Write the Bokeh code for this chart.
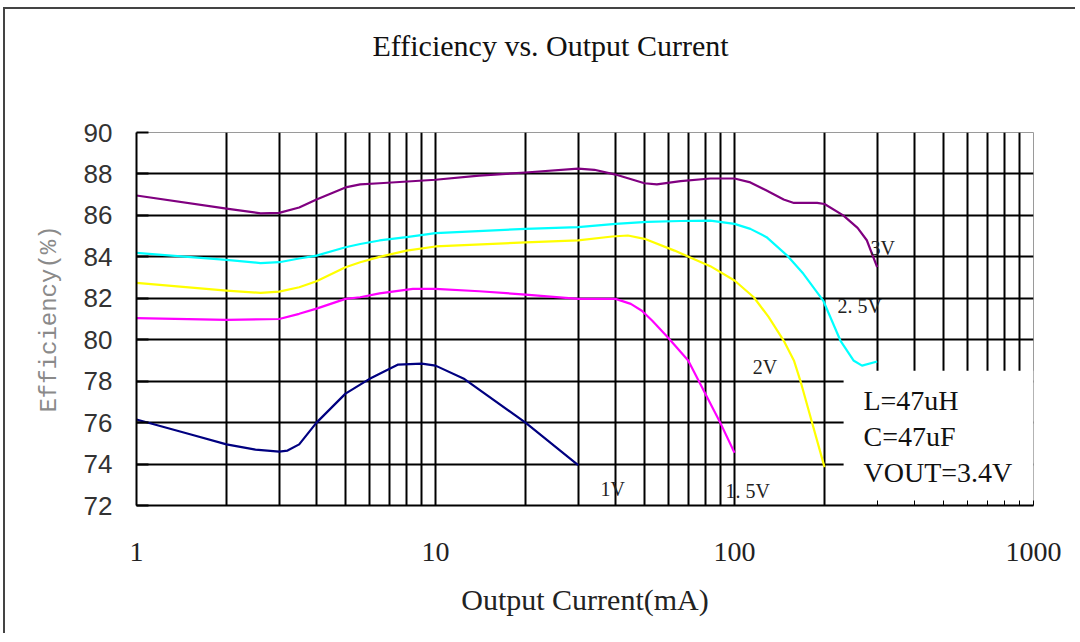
from bokeh.plotting import figure
from bokeh.models import Range1d, FixedTicker, BasicTickFormatter, Title
from bokeh.core.properties import value
from bokeh.embed import file_html
from bokeh.resources import INLINE

# ---------------- data ----------------
x_1v = [1, 1.5, 2, 2.5, 3, 3.2, 3.5, 4, 5, 6, 7.5, 9, 10, 12.5, 20, 30]
y_1v = [76.15, 75.45, 74.95, 74.7, 74.6, 74.65, 74.95, 76.0, 77.4, 78.1, 78.8, 78.85, 78.75, 78.1, 76.0, 73.95]

x_15v = [1, 2, 3, 3.5, 4, 5, 5.6, 6.5, 8.4, 10, 14, 20, 30, 40, 45, 49, 53, 60, 70, 90, 100]
y_15v = [81.04, 80.96, 81.0, 81.25, 81.5, 81.97, 82.05, 82.24, 82.45, 82.45, 82.34, 82.18, 81.97, 81.97, 81.73, 81.4, 80.93, 80.1, 79.0, 75.94, 74.55]

x_2v = [1, 2, 2.6, 3, 3.5, 4, 5, 5.6, 6.5, 8, 10, 20, 30, 39, 44, 50, 63, 77, 83, 100, 116, 130, 146, 158, 166, 200]
y_2v = [82.74, 82.37, 82.26, 82.32, 82.53, 82.82, 83.5, 83.74, 84.0, 84.3, 84.5, 84.7, 84.79, 84.98, 85.03, 84.87, 84.3, 83.75, 83.55, 82.86, 82.05, 81.1, 79.96, 79.0, 78.03, 73.85]

x_25v = [1, 2, 2.6, 3, 3.5, 4, 5, 5.6, 6.5, 8, 10, 20, 30, 40, 51, 66, 83, 100, 113, 128, 150, 170, 198, 226, 250, 267, 300]
y_25v = [84.19, 83.85, 83.7, 83.74, 83.92, 84.06, 84.46, 84.62, 84.79, 84.95, 85.14, 85.35, 85.43, 85.59, 85.69, 85.73, 85.75, 85.59, 85.35, 84.95, 84.06, 83.18, 81.89, 79.96, 79.0, 78.75, 78.95]

x_3v = [1, 2, 2.6, 3, 3.5, 4, 5, 5.6, 6.5, 10, 14, 20, 30, 34, 40, 50, 55, 66, 83, 100, 113, 128, 146, 158, 189, 200, 231, 258, 277, 300]
y_3v = [86.96, 86.33, 86.1, 86.12, 86.38, 86.77, 87.35, 87.5, 87.55, 87.72, 87.92, 88.07, 88.26, 88.2, 87.97, 87.55, 87.5, 87.65, 87.78, 87.78, 87.59, 87.2, 86.77, 86.6, 86.6, 86.55, 86.0, 85.4, 84.8, 83.5]

series_names = ["1V", "1.5V", "2V", "2.5V", "3V"]
series_colors = ["#000080", "#ff00ff", "#ffff00", "#00ffff", "#800080"]

curve_labels = ["3V", "2. 5V", "2V", "1V", "1. 5V"]
curve_label_x = [285, 221, 115, 35.6, 93.3]
curve_label_y = [84.45, 81.65, 78.66, 72.82, 72.72]

note_lines = ["L=47uH", "C=47uF", "VOUT=3.4V"]
note_x = [270, 270, 270]
note_y = [77.07, 75.33, 73.59]
note_box = dict(left=231.7, right=1000, bottom=72, top=78.5)

x_major = [1, 10, 100, 1000]
x_minor = [2, 3, 4, 5, 6, 7, 8, 9, 20, 30, 40, 50, 60, 70, 80, 90, 200, 300, 400, 500, 600, 700, 800, 900]
y_ticks = [72, 74, 76, 78, 80, 82, 84, 86, 88, 90]

SERIF = "Liberation Serif"

p = figure(width=1072, height=626, x_axis_type="log",
           x_range=Range1d(1, 1000), y_range=Range1d(72, 90),
           output_backend="svg", toolbar_location=None,
           min_border_left=131, min_border_right=44,
           min_border_top=123, min_border_bottom=130)
p.title = None
p.background_fill_color = "white"
p.border_fill_color = "white"
p.outline_line_color = "#9a9a9a"
p.outline_line_width = 1
p.styles = {"border-top": "2px solid #444", "border-left": "2px solid #444",
            "margin-top": "7px", "margin-left": "3px"}

# axes
p.xaxis.ticker = FixedTicker(ticks=x_major, minor_ticks=x_minor)
p.xaxis.formatter = BasicTickFormatter()
p.xaxis.major_label_text_font = SERIF
p.xaxis.major_label_text_font_size = "28px"
p.xaxis.major_label_text_color = "#222"
p.xaxis.major_label_standoff = 37
p.xaxis.major_tick_in = 5
p.xaxis.major_tick_out = 0
p.xaxis.minor_tick_in = 5
p.xaxis.minor_tick_out = 0
p.xaxis.major_tick_line_color = "black"
p.xaxis.minor_tick_line_color = "black"
p.xaxis.axis_line_color = "black"
p.xaxis.axis_line_width = 2
p.xaxis.axis_label = "Output Current(mA)"
p.xaxis.axis_label_text_font = SERIF
p.xaxis.axis_label_text_font_style = "normal"
p.xaxis.axis_label_text_font_size = "30px"
p.xaxis.axis_label_text_color = "#222"
p.xaxis.axis_label_standoff = 19

p.yaxis.ticker = FixedTicker(ticks=y_ticks)
p.yaxis.major_label_text_font = "Liberation Sans"
p.yaxis.major_label_text_font_size = "26px"
p.yaxis.major_label_text_color = "#333"
p.yaxis.major_label_standoff = 24
p.yaxis.major_tick_in = 12
p.yaxis.major_tick_out = 0
p.yaxis.minor_tick_line_color = None
p.yaxis.major_tick_line_color = "black"
p.yaxis.major_tick_line_width = 2
p.yaxis.axis_line_color = "black"
p.yaxis.axis_line_width = 2
p.yaxis.axis_label = "Efficiency(%)"
p.yaxis.axis_label_text_font = "Liberation Mono"
p.yaxis.axis_label_text_font_style = "normal"
p.yaxis.axis_label_text_font_size = "24px"
p.yaxis.axis_label_text_color = "#8a8a8a"
p.yaxis.axis_label_standoff = 18

# spacer panel above the frame, then the title further out
p.add_layout(Title(text=" ", text_font_size="57px", text_color="white", standoff=0), "above")
p.add_layout(Title(text="Efficiency vs. Output Current", align="left", offset=236,
                   text_font=SERIF, text_font_size="30px", text_font_style="normal",
                   text_color="#111", standoff=10), "above")

# grids
p.xgrid.ticker = FixedTicker(ticks=x_major[:-1], minor_ticks=x_minor)
p.xgrid.grid_line_color = "black"
p.xgrid.grid_line_width = 2
p.xgrid.minor_grid_line_color = "black"
p.xgrid.minor_grid_line_width = 2
p.ygrid.ticker = FixedTicker(ticks=y_ticks[:-1])
p.ygrid.grid_line_color = "black"
p.ygrid.grid_line_width = 2

# note box (covers grid)
p.quad(left=[note_box["left"]], right=[note_box["right"]],
       bottom=[note_box["bottom"]], top=[note_box["top"]],
       fill_color="white", line_color=None)

# curves
all_x = [x_1v, x_15v, x_2v, x_25v, x_3v]
all_y = [y_1v, y_15v, y_2v, y_25v, y_3v]
for xs, ys, c in zip(all_x, all_y, series_colors):
    p.line(xs, ys, line_color=c, line_width=2.2, line_join="round")

# curve labels
p.text(x=curve_label_x, y=curve_label_y, text=curve_labels,
       text_font=value(SERIF), text_font_size="20px", text_color="#222",
       text_align="left", text_baseline="middle")

# note text
p.text(x=note_x, y=note_y, text=note_lines,
       text_font=value(SERIF), text_font_size="28px", text_color="#111",
       text_align="left", text_baseline="middle")

open("out.html", "w").write(file_html(p, INLINE))
